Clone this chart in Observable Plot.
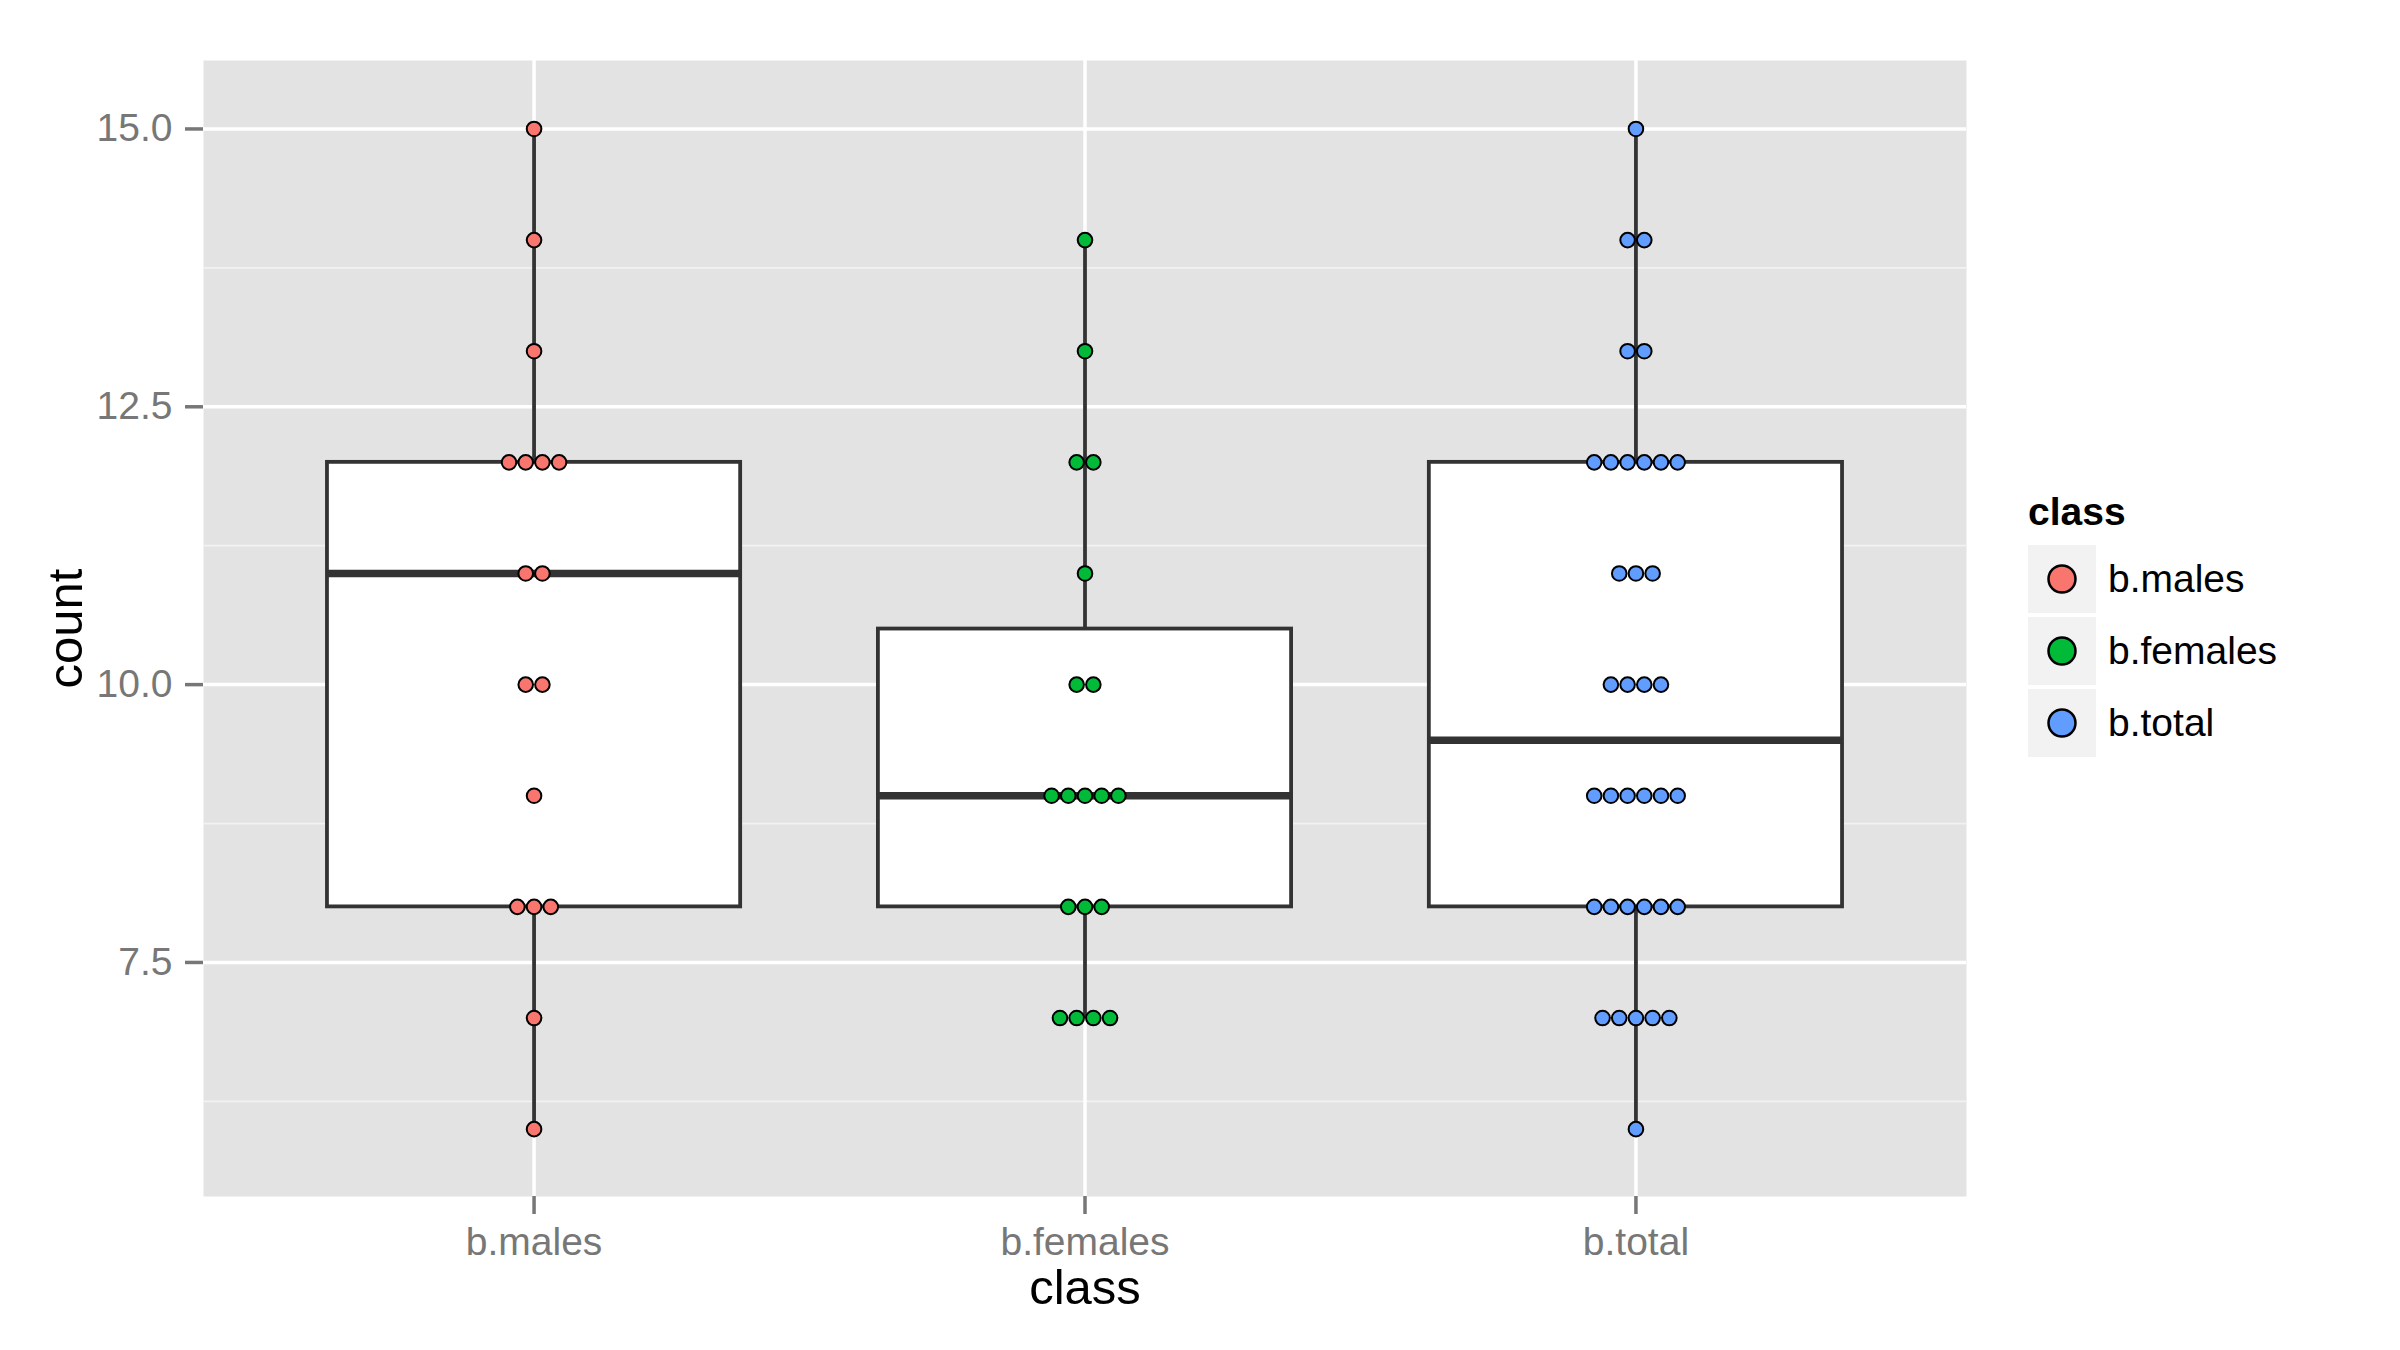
<!DOCTYPE html>
<html>
<head>
<meta charset="utf-8">
<script src="https://cdn.jsdelivr.net/npm/d3@7"></script>
<script src="https://cdn.jsdelivr.net/npm/@observablehq/plot@0.6"></script>
<style>
  html, body { margin: 0; padding: 0; background: #ffffff; }
  #chart { width: 2400px; height: 1350px; }
</style>
</head>
<body>
<div id="chart"></div>
<script>
// ---- data ----
const classes = ["b.males", "b.females", "b.total"];
const classColors = ["#F8766D", "#00BA38", "#619CFF"];
const malesCounts = [15, 14, 13, 12, 12, 12, 12, 11, 11, 10, 10, 9, 8, 8, 8, 7, 6];
const femalesCounts = [14, 13, 12, 12, 11, 10, 10, 9, 9, 9, 9, 9, 8, 8, 8, 7, 7, 7, 7];
const totalCounts = [15, 14, 14, 13, 13, 12, 12, 12, 12, 12, 12, 11, 11, 11, 10, 10, 10, 10,
                     9, 9, 9, 9, 9, 9, 8, 8, 8, 8, 8, 8, 7, 7, 7, 7, 7, 6];
const yTicks = [7.5, 10, 12.5, 15];
const yMinorTicks = [6.25, 8.75, 11.25, 13.75];

// ---- build tables ----
const seriesCounts = [malesCounts, femalesCounts, totalCounts];
const dotStep = 0.0303; // dot diameter in x-scale units
const dots = [];
const stats = [];
seriesCounts.forEach((vals, ci) => {
  const pos = ci + 1;
  const sorted = vals.slice().sort(d3.ascending);
  const q1 = d3.quantile(sorted, 0.25);
  const med = d3.quantile(sorted, 0.5);
  const q3 = d3.quantile(sorted, 0.75);
  const iqr = q3 - q1;
  const lo = d3.min(sorted.filter(v => v >= q1 - 1.5 * iqr));
  const hi = d3.max(sorted.filter(v => v <= q3 + 1.5 * iqr));
  stats.push({cls: classes[ci], pos, q1, med, q3, lo, hi});
  const groups = d3.group(vals, v => v);
  for (const [v, arr] of groups) {
    const n = arr.length;
    arr.forEach((_, k) => {
      dots.push({cls: classes[ci], count: v, x: pos + (k - (n - 1) / 2) * dotStep, color: classColors[ci]});
    });
  }
});

const FONT = "'Liberation Sans', Arial, Helvetica, sans-serif";
const boxStroke = "#333333";

const chart = Plot.plot({
  width: 2400,
  height: 1350,
  marginLeft: 203,
  marginRight: 434,
  marginTop: 60,
  marginBottom: 154,
  style: {fontFamily: FONT, background: "#ffffff", overflow: "visible"},
  x: {domain: [0.4, 3.6], axis: null},
  y: {domain: [5.394, 15.616], axis: null},
  marks: [
    Plot.frame({fill: "#E3E3E3", stroke: null}),
    Plot.gridY(yMinorTicks, {stroke: "#F2F2F2", strokeOpacity: 1, strokeWidth: 1.8}),
    Plot.gridY(yTicks, {stroke: "#ffffff", strokeOpacity: 1, strokeWidth: 3.5}),
    Plot.gridX([1, 2, 3], {stroke: "#ffffff", strokeOpacity: 1, strokeWidth: 3.5}),
    Plot.axisY(yTicks, {
      tickSize: 18, tickPadding: 13, tickFormat: d => d.toFixed(1),
      color: "#777777", strokeWidth: 3.5, fontSize: 39, label: null
    }),
    Plot.axisX([1, 2, 3], {
      tickSize: 18, tickPadding: 13, tickFormat: d => classes[d - 1],
      color: "#777777", strokeWidth: 3.5, fontSize: 39, label: null
    }),
    Plot.text(["class"], {frameAnchor: "bottom", lineAnchor: "middle", textAnchor: "middle",
      dy: 92, fontSize: 49, fill: "#000000"}),
    Plot.text(["count"], {frameAnchor: "left", lineAnchor: "middle", textAnchor: "middle",
      dx: -137, rotate: -90, fontSize: 49, fill: "#000000"}),
    // whiskers
    Plot.ruleX(stats, {x: "pos", y1: "lo", y2: "hi", stroke: boxStroke, strokeWidth: 3.8}),
    // boxes
    Plot.rect(stats, {
      x1: d => d.pos - 0.375, x2: d => d.pos + 0.375, y1: "q1", y2: "q3",
      fill: "#ffffff", stroke: boxStroke, strokeWidth: 3.8
    }),
    // medians
    Plot.ruleY(stats, {
      y: "med", x1: d => d.pos - 0.375, x2: d => d.pos + 0.375,
      stroke: boxStroke, strokeWidth: 7.5
    }),
    // dots
    Plot.dot(dots, {x: "x", y: "count", r: 7.3, fill: "color", stroke: "#000000", strokeWidth: 2})
  ]
});

document.getElementById("chart").appendChild(chart);

// ---- legend drawn into the same SVG ----
const svg = d3.select(chart);
const lg = svg.append("g").attr("font-family", FONT).attr("text-anchor", "start");
lg.append("text").attr("x", 2028).attr("y", 525).attr("text-anchor", "start")
  .attr("font-size", 39).attr("font-weight", "bold").attr("fill", "#000").text("class");
classes.forEach((c, i) => {
  const top = 545 + i * 72;
  lg.append("rect").attr("x", 2028).attr("y", top).attr("width", 68).attr("height", 68).attr("fill", "#F2F2F2");
  lg.append("circle").attr("cx", 2062).attr("cy", top + 34).attr("r", 13.5)
    .attr("fill", classColors[i]).attr("stroke", "#000").attr("stroke-width", 2.5);
  lg.append("text").attr("x", 2108).attr("y", top + 34).attr("dy", "0.33em").attr("text-anchor", "start")
    .attr("font-size", 39).attr("fill", "#000").text(c);
});
</script>
</body>
</html>
